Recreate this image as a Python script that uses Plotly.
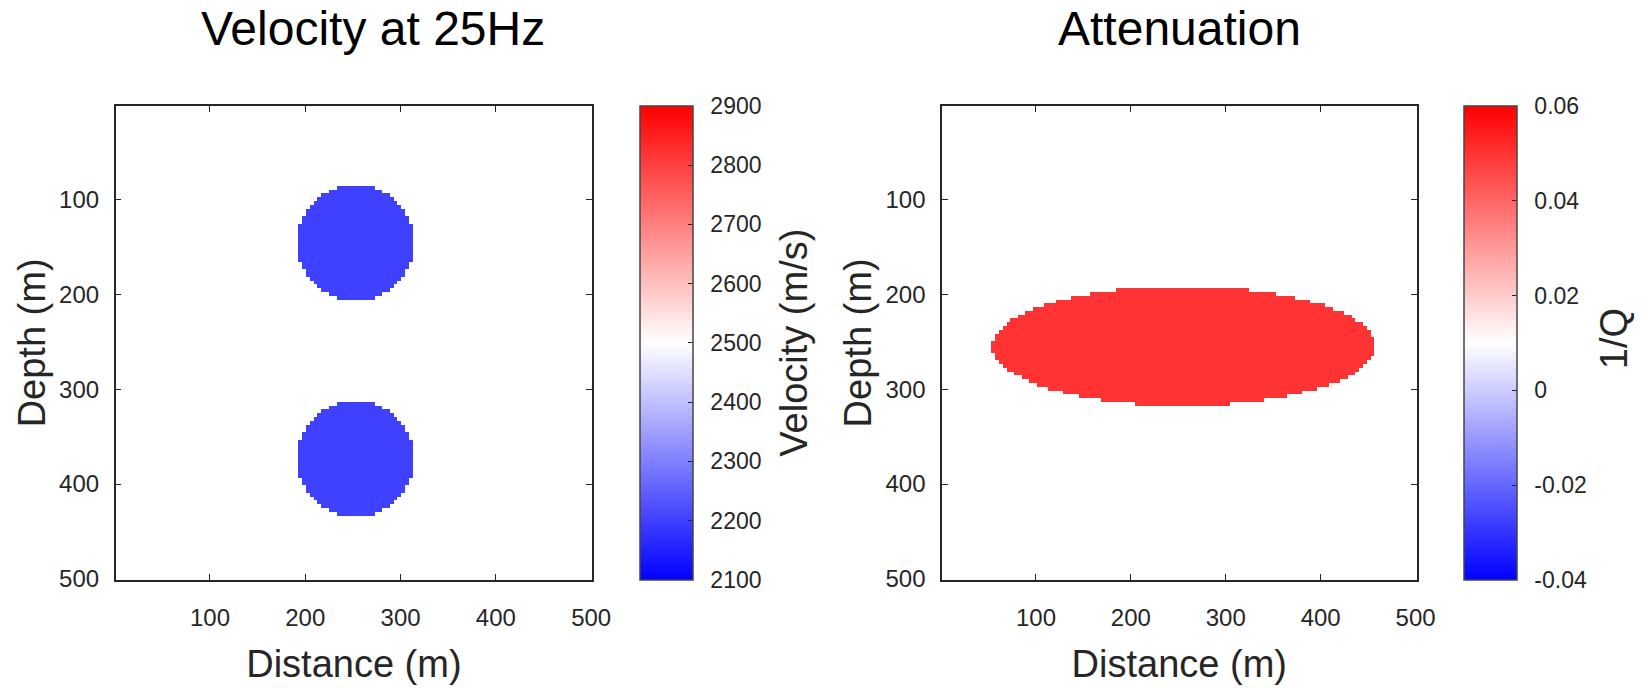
import numpy as np
import plotly.graph_objects as go

# ---------------- data ----------------
grid_step = 4
grid_x = np.arange(3, 501, grid_step)   # distance (m), cell centres
grid_z = np.arange(3, 501, grid_step)   # depth (m), cell centres

vel_background = 2500.0
circle_center_x = [253, 253]
circle_center_z = [145, 373]
circle_radius = [61, 61]
circle_velocity = [2200.0, 2200.0]

invq_background = 0.01
ellipse_center_x = [256]
ellipse_center_z = [254]
ellipse_semi_x = [202]
ellipse_semi_z = [63]
ellipse_invq = [0.05]

vel_ticks = [2100, 2200, 2300, 2400, 2500, 2600, 2700, 2800, 2900]
invq_ticks = [-0.04, -0.02, 0, 0.02, 0.04, 0.06]
invq_ticktext = ["-0.04", "-0.02", "0", "0.02", "0.04", "0.06"]
axis_ticks = [100, 200, 300, 400, 500]

# build model grids from the anomaly definitions
X, Z = np.meshgrid(grid_x, grid_z)
vel = np.full(X.shape, vel_background)
for cx, cz, r, v in zip(circle_center_x, circle_center_z, circle_radius, circle_velocity):
    vel[(X - cx) ** 2 + (Z - cz) ** 2 <= r ** 2] = v
invq = np.full(X.shape, invq_background)
for cx, cz, ax, az, v in zip(ellipse_center_x, ellipse_center_z, ellipse_semi_x, ellipse_semi_z, ellipse_invq):
    invq[((X - cx) / ax) ** 2 + ((Z - cz) / az) ** 2 <= 1] = v

# ---------------- layout geometry ----------------
W, H = 1652, 688
FONT = "Liberation Sans, Arial, sans-serif"
TXT = "#262626"
px = lambda v: v / W
py = lambda v: 1 - v / H

plot_top, plot_bot = 108, 590
left_x0, left_x1 = 117, 599
right_x0, right_x1 = 953, 1433
cb1_x0, cb2_x0 = 647, 1481
cb_thick = 53
SP = "\u2002"

cscale = [[0, "rgb(0,0,255)"], [0.5, "rgb(255,255,255)"], [1, "rgb(255,0,0)"]]

def cbar(x0, tickvals, ticktext):
    return dict(
        x=px(x0), xanchor="left", xpad=0, ypad=0,
        y=py((plot_top + plot_bot) / 2), yanchor="middle",
        len=(plot_bot - plot_top) / H, lenmode="fraction",
        thickness=cb_thick, thicknessmode="pixels",
        outlinecolor="#444444", outlinewidth=1.5,
        ticks="inside", ticklen=5, tickcolor=TXT, tickwidth=1.2,
        tickvals=tickvals, ticktext=[SP + t for t in ticktext],
        tickfont=dict(family=FONT, size=23, color=TXT),
    )

fig = go.Figure()
fig.add_trace(go.Heatmap(
    x=grid_x, y=grid_z, z=vel, colorscale=cscale, zmin=2100, zmax=2900,
    zsmooth=False, xaxis="x", yaxis="y",
    colorbar=cbar(cb1_x0, vel_ticks, [str(t) for t in vel_ticks]),
))
fig.add_trace(go.Heatmap(
    x=grid_x, y=grid_z, z=invq, colorscale=cscale, zmin=-0.04, zmax=0.06,
    zsmooth=False, xaxis="x2", yaxis="y2",
    colorbar=cbar(cb2_x0, invq_ticks, invq_ticktext),
))

def xax(x0, x1, anchor):
    return dict(
        domain=[px(x0), px(x1)], anchor=anchor, range=[1, 501],
        tickvals=axis_ticks, ticks="inside", ticklen=6, tickcolor=TXT, tickwidth=1.2,
        showline=True, mirror="ticks", linecolor=TXT, linewidth=1.5,
        showgrid=False, zeroline=False, ticklabelstandoff=16,
        tickfont=dict(family=FONT, size=24, color=TXT),
        title=dict(text="Distance (m)", font=dict(family=FONT, size=38, color=TXT), standoff=20),
    )

def yax(anchor):
    return dict(
        domain=[py(plot_bot), py(plot_top)], anchor=anchor, range=[501, 1],
        tickvals=axis_ticks, ticks="inside", ticklen=6, tickcolor=TXT, tickwidth=1.2,
        showline=True, mirror="ticks", linecolor=TXT, linewidth=1.5,
        showgrid=False, zeroline=False, ticklabelstandoff=10,
        tickfont=dict(family=FONT, size=24, color=TXT),
        title=dict(text="Depth (m)", font=dict(family=FONT, size=38, color=TXT), standoff=2),
    )

def ann(text, x, y, size, angle=0, color="black"):
    return dict(text=text, x=px(x), y=py(y), xref="paper", yref="paper",
                xanchor="center", yanchor="middle", showarrow=False, textangle=angle,
                font=dict(family=FONT, size=size, color=color))

fig.update_layout(
    width=W, height=H, margin=dict(l=0, r=0, t=0, b=0),
    paper_bgcolor="white", plot_bgcolor="white",
    xaxis=xax(left_x0, left_x1, "y"), yaxis=yax("x"),
    xaxis2=xax(right_x0, right_x1, "y2"), yaxis2=yax("x2"),
    annotations=[
        ann("Velocity at 25Hz", 377, 29, 48),
        ann("Attenuation", (right_x0 + right_x1) / 2, 29, 48),
        ann("Velocity (m/s)", 803, 349, 38, -90, TXT),
        ann("1/Q", 1633, 345, 38, -90, TXT),
    ],
)

fig.write_html("out.html")
